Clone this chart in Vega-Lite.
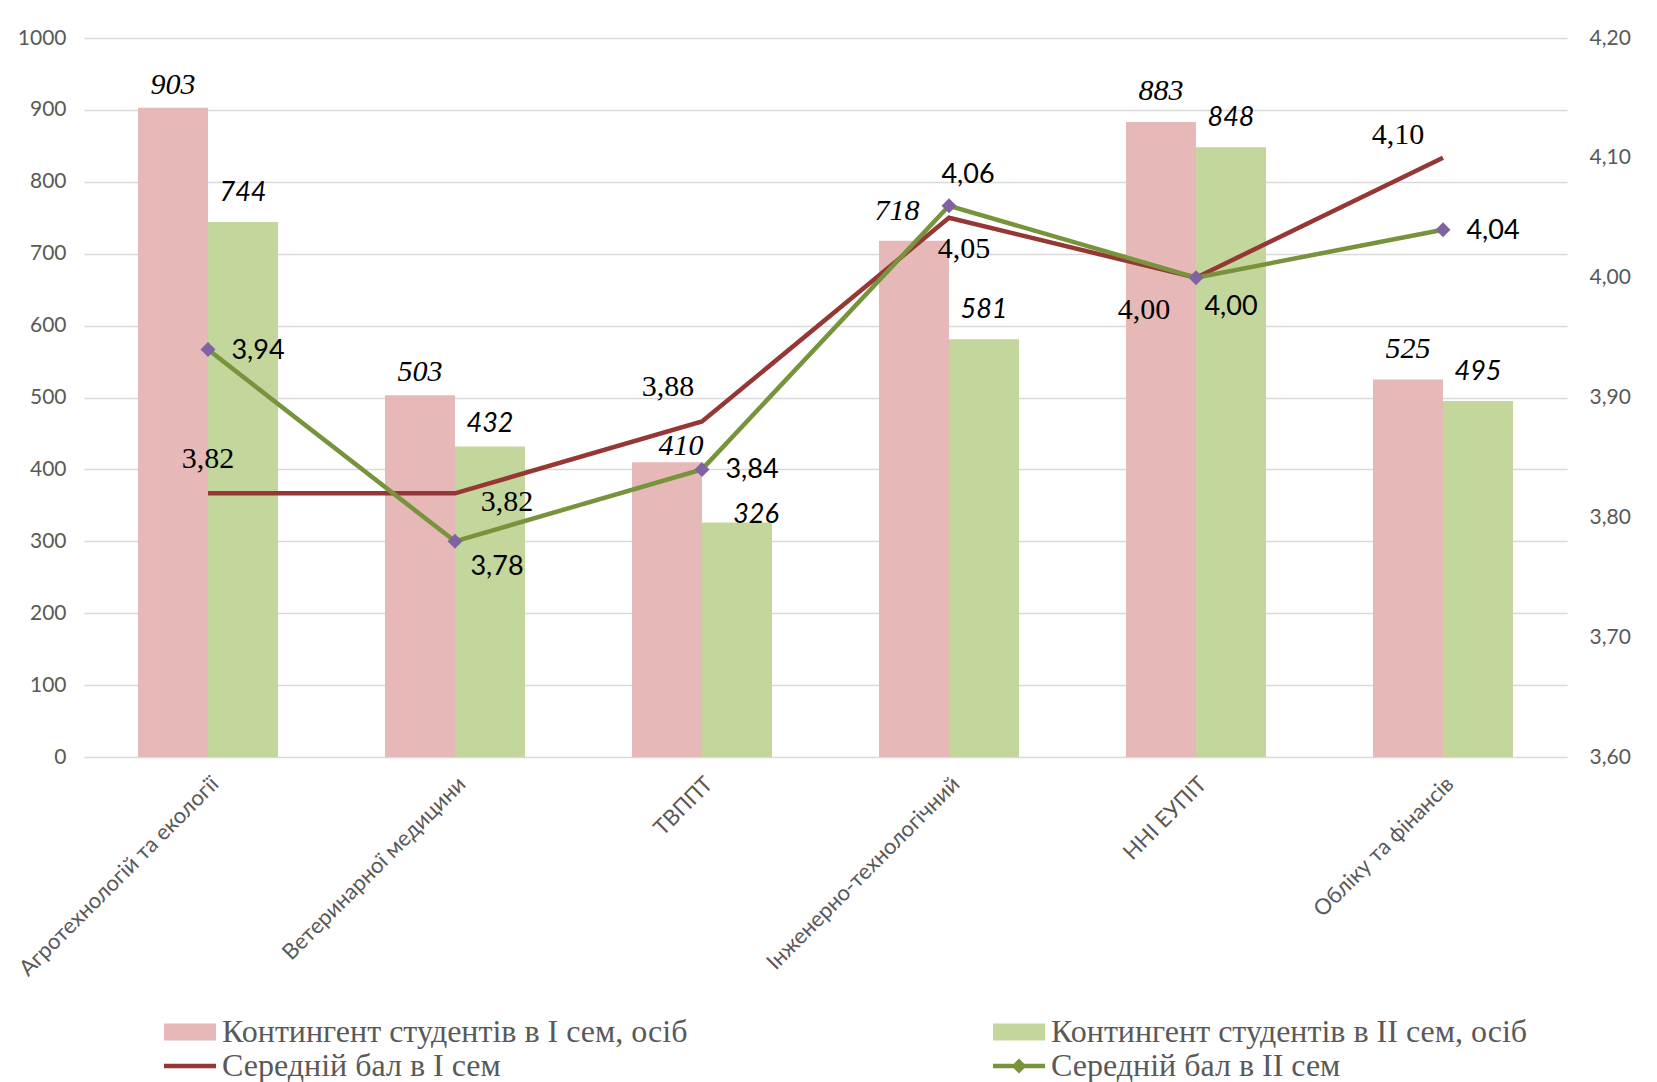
{
  "$schema": "https://vega.github.io/schema/vega-lite/v6.json",
  "width": 1483,
  "height": 719,
  "autosize": {"type": "none"},
  "padding": {"left": 84, "top": 38, "right": 90, "bottom": 325},
  "background": "white",
  "config": {
    "locale": {"number": {"decimal": ",", "thousands": " ", "grouping": [3], "currency": ["", ""]}},
    "view": {"stroke": null},
    "text": {"font": "Liberation Serif"},
    "axis": {"labelFont": "Lato", "labelFontSize": 21, "labelColor": "#595959", "gridColor": "#D9D9D9", "gridWidth": 1.3, "domain": false, "ticks": false, "title": null}
  },
  "datasets": {
    "bars": [
      {"cat": "Агротехнологій та екології", "series": "Контингент студентів в I сем, осіб", "value": 903},
      {"cat": "Агротехнологій та екології", "series": "Контингент студентів в II сем, осіб", "value": 744},
      {"cat": "Ветеринарної медицини", "series": "Контингент студентів в I сем, осіб", "value": 503},
      {"cat": "Ветеринарної медицини", "series": "Контингент студентів в II сем, осіб", "value": 432},
      {"cat": "ТВППТ", "series": "Контингент студентів в I сем, осіб", "value": 410},
      {"cat": "ТВППТ", "series": "Контингент студентів в II сем, осіб", "value": 326},
      {"cat": "Інженерно-технологічний", "series": "Контингент студентів в I сем, осіб", "value": 718},
      {"cat": "Інженерно-технологічний", "series": "Контингент студентів в II сем, осіб", "value": 581},
      {"cat": "ННІ ЕУПІТ", "series": "Контингент студентів в I сем, осіб", "value": 883},
      {"cat": "ННІ ЕУПІТ", "series": "Контингент студентів в II сем, осіб", "value": 848},
      {"cat": "Обліку та фінансів", "series": "Контингент студентів в I сем, осіб", "value": 525},
      {"cat": "Обліку та фінансів", "series": "Контингент студентів в II сем, осіб", "value": 495}
    ],
    "lines": [
      {"cat": "Агротехнологій та екології", "series": "Середній бал в I сем", "value": 3.82},
      {"cat": "Ветеринарної медицини", "series": "Середній бал в I сем", "value": 3.82},
      {"cat": "ТВППТ", "series": "Середній бал в I сем", "value": 3.88},
      {"cat": "Інженерно-технологічний", "series": "Середній бал в I сем", "value": 4.05},
      {"cat": "ННІ ЕУПІТ", "series": "Середній бал в I сем", "value": 4.0},
      {"cat": "Обліку та фінансів", "series": "Середній бал в I сем", "value": 4.1},
      {"cat": "Агротехнологій та екології", "series": "Середній бал в II сем", "value": 3.94},
      {"cat": "Ветеринарної медицини", "series": "Середній бал в II сем", "value": 3.78},
      {"cat": "ТВППТ", "series": "Середній бал в II сем", "value": 3.84},
      {"cat": "Інженерно-технологічний", "series": "Середній бал в II сем", "value": 4.06},
      {"cat": "ННІ ЕУПІТ", "series": "Середній бал в II сем", "value": 4.0},
      {"cat": "Обліку та фінансів", "series": "Середній бал в II сем", "value": 4.04}
    ]
  },
  "encoding": {
    "x": {
      "field": "cat", "type": "nominal", "sort": null,
      "scale": {"paddingInner": 0.433, "paddingOuter": 0.2185},
      "axis": {"labelAngle": -45, "labelPadding": 16, "labelFontSize": 22, "grid": false, "labelLimit": 0}
    }
  },
  "layer": [
    {
      "data": {"name": "bars"},
      "encoding": {
        "y": {"field": "value", "type": "quantitative", "scale": {"domain": [0, 1000], "nice": false}, "axis": {"orient": "left", "values": [0, 100, 200, 300, 400, 500, 600, 700, 800, 900, 1000], "format": "d", "grid": true, "labelPadding": 18}},
        "xOffset": {"field": "series", "type": "nominal", "sort": null}
      },
      "layer": [
        {
          "mark": {"type": "bar"},
          "encoding": {
            "color": {
              "field": "series", "type": "nominal",
              "scale": {"domain": ["Контингент студентів в I сем, осіб", "Контингент студентів в II сем, осіб", "Середній бал в I сем", "Середній бал в II сем"], "range": ["#E6B9B8", "#C3D69B", "#953735", "#77933C"]},
              "legend": {
                "orient": "none", "legendX": 90, "legendY": 978, "columns": 2, "direction": "horizontal", "columnPadding": 305, "rowPadding": 2,
                "title": null, "labelFont": "Liberation Serif", "labelFontSize": 32, "labelColor": "#595959", "labelLimit": 0,
                "symbolSize": 400, "labelOffset": 16,
                "encode": {
                  "symbols": {
                    "update": {
                      "shape": {"signal": "datum.value == 'Середній бал в I сем' ? 'M-2.6,-0.22H2.6V0.22H-2.6Z' : datum.value == 'Середній бал в II сем' ? 'M-2.6,-0.22H2.6V0.22H-2.6Z M-0.75,0L0,-0.75L0.75,0L0,0.75Z' : 'M-2.6,-0.85H2.6V0.85H-2.6Z'"},
                      "fill": {"signal": "scale('color', datum.value)"},
                      "stroke": {"value": "transparent"},
                      "strokeWidth": {"value": 0},
                      "opacity": {"value": 1},
                      "fillOpacity": {"value": 1}
                    }
                  }
                }
              }
            }
          }
        },
        {
          "transform": [{"filter": {"and": [{"field": "series", "equal": "Контингент студентів в I сем, осіб"}, {"field": "cat", "oneOf": ["Агротехнологій та екології", "Ветеринарної медицини"]}]}}],
          "mark": {"type": "text", "font": "Liberation Serif", "fontStyle": "italic", "fontSize": 30, "color": "#000000", "baseline": "middle", "dy": -23},
          "encoding": {"text": {"field": "value", "type": "quantitative", "format": "d"}}
        },
        {
          "transform": [{"filter": {"and": [{"field": "series", "equal": "Контингент студентів в I сем, осіб"}, {"field": "cat", "oneOf": ["ННІ ЕУПІТ", "Обліку та фінансів"]}]}}],
          "mark": {"type": "text", "font": "Liberation Serif", "fontStyle": "italic", "fontSize": 30, "color": "#000000", "baseline": "middle", "dy": -31},
          "encoding": {"text": {"field": "value", "type": "quantitative", "format": "d"}}
        },
        {
          "transform": [{"filter": {"and": [{"field": "series", "equal": "Контингент студентів в I сем, осіб"}, {"field": "cat", "equal": "ТВППТ"}]}}],
          "mark": {"type": "text", "font": "Liberation Serif", "fontStyle": "italic", "fontSize": 30, "color": "#000000", "baseline": "middle", "dx": 14, "dy": -16},
          "encoding": {"text": {"field": "value", "type": "quantitative", "format": "d"}}
        },
        {
          "transform": [{"filter": {"and": [{"field": "series", "equal": "Контингент студентів в I сем, осіб"}, {"field": "cat", "equal": "Інженерно-технологічний"}]}}],
          "mark": {"type": "text", "font": "Liberation Serif", "fontStyle": "italic", "fontSize": 30, "color": "#000000", "baseline": "middle", "dx": -17, "dy": -30},
          "encoding": {"text": {"field": "value", "type": "quantitative", "format": "d"}}
        },
        {
          "transform": [{"filter": {"and": [{"field": "series", "equal": "Контингент студентів в II сем, осіб"}, {"field": "cat", "oneOf": ["Агротехнологій та екології", "Інженерно-технологічний", "ННІ ЕУПІТ", "Обліку та фінансів"]}]}}],
          "mark": {"type": "text", "font": "Lato", "fontStyle": "italic", "fontSize": 27, "color": "#000000", "baseline": "middle", "dy": -29},
          "encoding": {"text": {"field": "value", "type": "quantitative", "format": "d"}}
        },
        {
          "transform": [{"filter": {"and": [{"field": "series", "equal": "Контингент студентів в II сем, осіб"}, {"field": "cat", "equal": "Ветеринарної медицини"}]}}],
          "mark": {"type": "text", "font": "Lato", "fontStyle": "italic", "fontSize": 27, "color": "#000000", "baseline": "middle", "dy": -22},
          "encoding": {"text": {"field": "value", "type": "quantitative", "format": "d"}}
        },
        {
          "transform": [{"filter": {"and": [{"field": "series", "equal": "Контингент студентів в II сем, осіб"}, {"field": "cat", "equal": "ТВППТ"}]}}],
          "mark": {"type": "text", "font": "Lato", "fontStyle": "italic", "fontSize": 27, "color": "#000000", "baseline": "middle", "dx": 19, "dy": -8},
          "encoding": {"text": {"field": "value", "type": "quantitative", "format": "d"}}
        }
      ]
    },
    {
      "data": {"name": "lines"},
      "encoding": {
        "y": {"field": "value", "type": "quantitative", "scale": {"domain": [3.6, 4.2], "nice": false, "zero": false}, "axis": {"orient": "right", "values": [3.6, 3.7, 3.8, 3.9, 4.0, 4.1, 4.2], "format": ".2f", "grid": false, "labelPadding": 22}}
      },
      "layer": [
        {
          "transform": [{"filter": {"field": "series", "equal": "Середній бал в I сем"}}],
          "mark": {"type": "line", "strokeWidth": 4.5},
          "encoding": {"color": {"field": "series", "type": "nominal"}}
        },
        {
          "transform": [{"filter": {"field": "series", "equal": "Середній бал в II сем"}}],
          "mark": {"type": "line", "strokeWidth": 4.5},
          "encoding": {"color": {"field": "series", "type": "nominal"}}
        },
        {
          "transform": [{"filter": {"field": "series", "equal": "Середній бал в II сем"}}],
          "mark": {"type": "point", "shape": "diamond", "filled": true, "color": "#8064A2", "size": 225, "opacity": 1}
        },
        {
          "transform": [{"filter": {"and": [{"field": "series", "equal": "Середній бал в I сем"}, {"field": "cat", "equal": "Агротехнологій та екології"}]}}],
          "mark": {"type": "text", "font": "Liberation Serif", "fontSize": 30, "color": "#000000", "baseline": "middle", "dx": 0, "dy": -34},
          "encoding": {"text": {"field": "value", "type": "quantitative", "format": ".2f"}}
        },
        {
          "transform": [{"filter": {"and": [{"field": "series", "equal": "Середній бал в I сем"}, {"field": "cat", "equal": "Ветеринарної медицини"}]}}],
          "mark": {"type": "text", "font": "Liberation Serif", "fontSize": 30, "color": "#000000", "baseline": "middle", "dx": 52, "dy": 9},
          "encoding": {"text": {"field": "value", "type": "quantitative", "format": ".2f"}}
        },
        {
          "transform": [{"filter": {"and": [{"field": "series", "equal": "Середній бал в I сем"}, {"field": "cat", "equal": "ТВППТ"}]}}],
          "mark": {"type": "text", "font": "Liberation Serif", "fontSize": 30, "color": "#000000", "baseline": "middle", "dx": -34, "dy": -34},
          "encoding": {"text": {"field": "value", "type": "quantitative", "format": ".2f"}}
        },
        {
          "transform": [{"filter": {"and": [{"field": "series", "equal": "Середній бал в I сем"}, {"field": "cat", "equal": "Інженерно-технологічний"}]}}],
          "mark": {"type": "text", "font": "Liberation Serif", "fontSize": 30, "color": "#000000", "baseline": "middle", "dx": 15, "dy": 31},
          "encoding": {"text": {"field": "value", "type": "quantitative", "format": ".2f"}}
        },
        {
          "transform": [{"filter": {"and": [{"field": "series", "equal": "Середній бал в I сем"}, {"field": "cat", "equal": "ННІ ЕУПІТ"}]}}],
          "mark": {"type": "text", "font": "Liberation Serif", "fontSize": 30, "color": "#000000", "baseline": "middle", "dx": -52, "dy": 32},
          "encoding": {"text": {"field": "value", "type": "quantitative", "format": ".2f"}}
        },
        {
          "transform": [{"filter": {"and": [{"field": "series", "equal": "Середній бал в I сем"}, {"field": "cat", "equal": "Обліку та фінансів"}]}}],
          "mark": {"type": "text", "font": "Liberation Serif", "fontSize": 30, "color": "#000000", "baseline": "middle", "dx": -45, "dy": -23},
          "encoding": {"text": {"field": "value", "type": "quantitative", "format": ".2f"}}
        },
        {
          "transform": [{"filter": {"and": [{"field": "series", "equal": "Середній бал в II сем"}, {"field": "cat", "oneOf": ["Агротехнологій та екології", "ТВППТ", "Обліку та фінансів"]}]}}],
          "mark": {"type": "text", "font": "Lato", "fontSize": 27, "color": "#000000", "baseline": "middle", "dx": 50, "dy": 1},
          "encoding": {"text": {"field": "value", "type": "quantitative", "format": ".2f"}}
        },
        {
          "transform": [{"filter": {"and": [{"field": "series", "equal": "Середній бал в II сем"}, {"field": "cat", "equal": "Ветеринарної медицини"}]}}],
          "mark": {"type": "text", "font": "Lato", "fontSize": 27, "color": "#000000", "baseline": "middle", "dx": 42, "dy": 26},
          "encoding": {"text": {"field": "value", "type": "quantitative", "format": ".2f"}}
        },
        {
          "transform": [{"filter": {"and": [{"field": "series", "equal": "Середній бал в II сем"}, {"field": "cat", "equal": "Інженерно-технологічний"}]}}],
          "mark": {"type": "text", "font": "Lato", "fontSize": 27, "color": "#000000", "baseline": "middle", "dx": 19, "dy": -31},
          "encoding": {"text": {"field": "value", "type": "quantitative", "format": ".2f"}}
        },
        {
          "transform": [{"filter": {"and": [{"field": "series", "equal": "Середній бал в II сем"}, {"field": "cat", "equal": "ННІ ЕУПІТ"}]}}],
          "mark": {"type": "text", "font": "Lato", "fontSize": 27, "color": "#000000", "baseline": "middle", "dx": 35, "dy": 29},
          "encoding": {"text": {"field": "value", "type": "quantitative", "format": ".2f"}}
        }
      ]
    }
  ],
  "resolve": {"scale": {"y": "independent"}}
}
